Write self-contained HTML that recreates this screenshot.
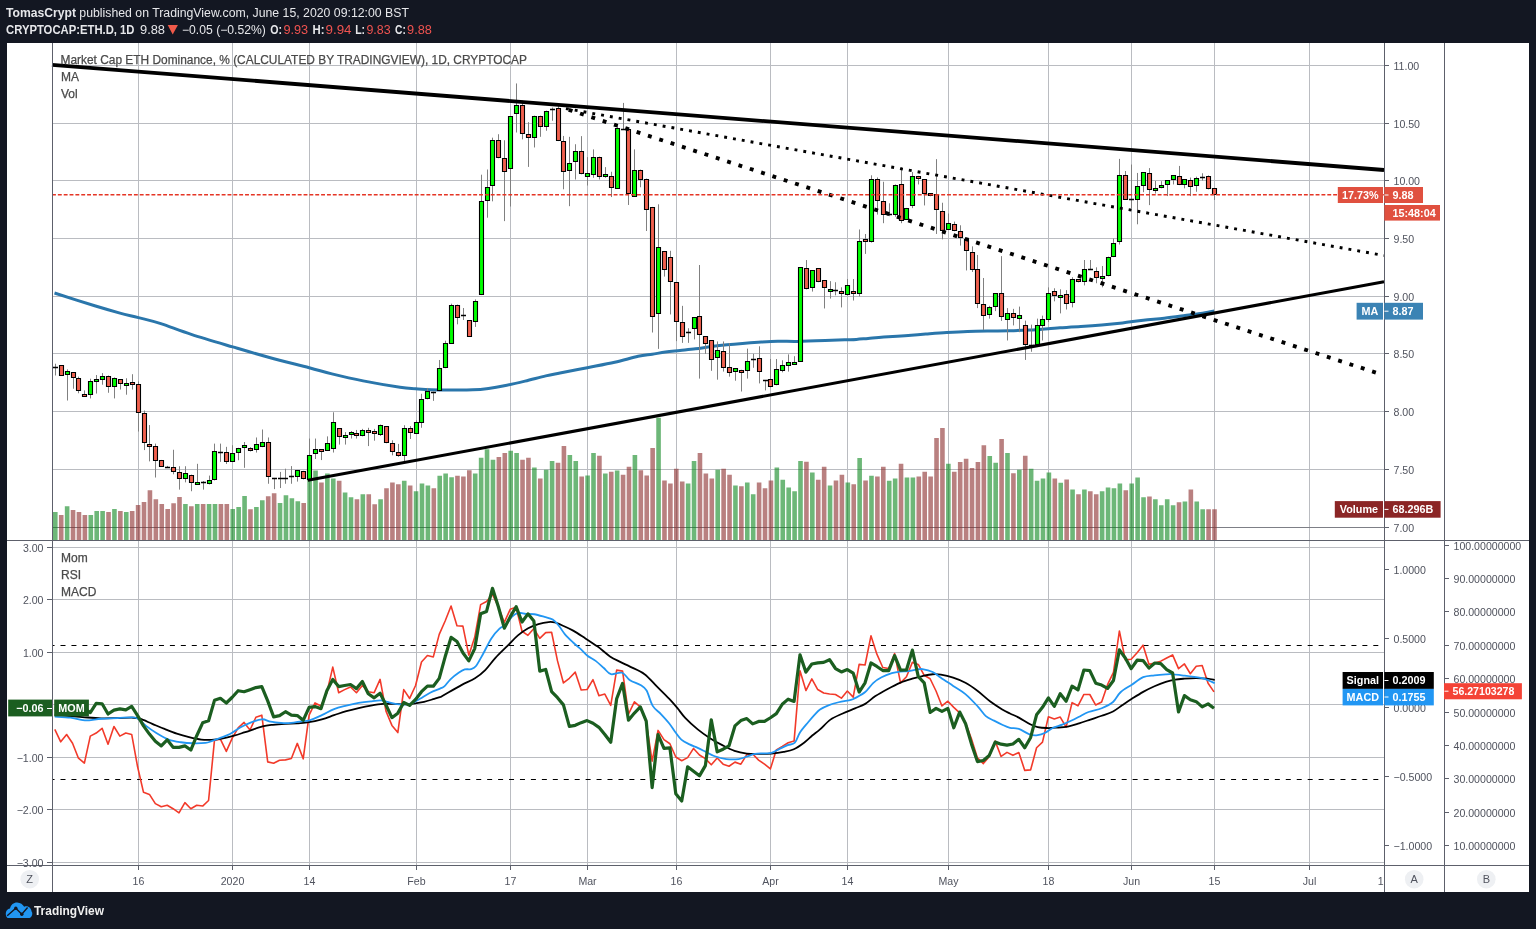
<!DOCTYPE html>
<html><head><meta charset="utf-8"><title>ETH Dominance</title>
<style>
html,body{margin:0;padding:0;}
body{width:1536px;height:929px;background:#131722;position:relative;overflow:hidden;}
#chart{position:absolute;left:7px;top:43px;width:1522px;height:849px;background:#fff;}
svg{position:absolute;left:0;top:0;}
</style></head><body>
<div id="chart"></div>
<svg width="1536" height="929" viewBox="0 0 1536 929">
<path d="M52 65.5H1384 M52 123.5H1384 M52 180.5H1384 M52 238.5H1384 M52 296.5H1384 M52 353.5H1384 M52 411.5H1384 M52 469.5H1384 M52 547.5H1384 M52 599.5H1384 M52 652.5H1384 M52 704.5H1384 M52 757.5H1384 M52 809.5H1384 M52 862.5H1384 M138.5 43V865 M232.5 43V865 M309.5 43V865 M416.5 43V865 M510.5 43V865 M587.5 43V865 M676.5 43V865 M770.5 43V865 M847.5 43V865 M948.5 43V865 M1048.5 43V865 M1131.5 43V865 M1214.5 43V865 M1309.5 43V865" stroke="#babcc1" stroke-width="1" fill="none"/>
<path d="M52 527.5H1384" stroke="#7d7f86" stroke-width="1"/>
<path d="M53 512.06h4.6V540h-4.6zM64.83 506.2h4.6V540h-4.6zM88.49 514.92h4.6V540h-4.6zM94.4 511.02h4.6V540h-4.6zM100.31 511.02h4.6V540h-4.6zM112.14 509.06h4.6V540h-4.6zM123.97 512.06h4.6V540h-4.6zM183.11 504.11h4.6V540h-4.6zM194.94 504.11h4.6V540h-4.6zM206.77 504.11h4.6V540h-4.6zM212.69 504.11h4.6V540h-4.6zM230.43 509.06h4.6V540h-4.6zM236.34 507.11h4.6V540h-4.6zM242.26 496.04h4.6V540h-4.6zM254.09 507.1h4.6V540h-4.6zM260 500.23h4.6V540h-4.6zM277.74 503.04h4.6V540h-4.6zM283.66 495.24h4.6V540h-4.6zM289.57 498.36h4.6V540h-4.6zM295.49 501.17h4.6V540h-4.6zM307.31 470.5h4.6V540h-4.6zM313.23 470.57h4.6V540h-4.6zM325.06 473.38h4.6V540h-4.6zM330.97 478.53h4.6V540h-4.6zM342.8 492.43h4.6V540h-4.6zM348.71 497.27h4.6V540h-4.6zM360.54 494.3h4.6V540h-4.6zM378.29 499.3h4.6V540h-4.6zM401.94 480.72h4.6V540h-4.6zM413.77 491.18h4.6V540h-4.6zM419.69 483.53h4.6V540h-4.6zM425.6 485.56h4.6V540h-4.6zM437.43 475.72h4.6V540h-4.6zM443.34 473.38h4.6V540h-4.6zM449.26 477.28h4.6V540h-4.6zM472.92 473.38h4.6V540h-4.6zM478.83 457.77h4.6V540h-4.6zM484.74 449.18h4.6V540h-4.6zM490.66 459.8h4.6V540h-4.6zM508.4 450.74h4.6V540h-4.6zM514.32 453.08h4.6V540h-4.6zM532.06 467.6h4.6V540h-4.6zM543.89 469.79h4.6V540h-4.6zM549.8 460.89h4.6V540h-4.6zM567.54 454.96h4.6V540h-4.6zM573.46 460.89h4.6V540h-4.6zM585.29 475.41h4.6V540h-4.6zM591.2 453.08h4.6V540h-4.6zM603.03 473.38h4.6V540h-4.6zM614.86 470.57h4.6V540h-4.6zM632.6 454.96h4.6V540h-4.6zM656.26 417.64h4.6V540h-4.6zM685.83 483.53h4.6V540h-4.6zM691.74 460.89h4.6V540h-4.6zM715.4 469.79h4.6V540h-4.6zM733.14 485.56h4.6V540h-4.6zM744.97 482.44h4.6V540h-4.6zM750.89 494.3h4.6V540h-4.6zM774.54 467.6h4.6V540h-4.6zM780.46 479.63h4.6V540h-4.6zM786.37 487.43h4.6V540h-4.6zM792.29 491.33h4.6V540h-4.6zM798.2 460.89h4.6V540h-4.6zM810.03 472.6h4.6V540h-4.6zM827.77 485.56h4.6V540h-4.6zM845.52 482.44h4.6V540h-4.6zM857.34 458.08h4.6V540h-4.6zM869.17 475.72h4.6V540h-4.6zM886.92 480.72h4.6V540h-4.6zM892.83 478.53h4.6V540h-4.6zM904.66 477.6h4.6V540h-4.6zM910.57 477.6h4.6V540h-4.6zM946.06 463.7h4.6V540h-4.6zM987.46 455.89h4.6V540h-4.6zM993.37 462.76h4.6V540h-4.6zM1005.2 453.05h4.6V540h-4.6zM1017.03 469.75h4.6V540h-4.6zM1028.86 468.65h4.6V540h-4.6zM1034.77 480.67h4.6V540h-4.6zM1040.69 478.48h4.6V540h-4.6zM1046.6 472.55h4.6V540h-4.6zM1058.43 482.7h4.6V540h-4.6zM1070.26 489.41h4.6V540h-4.6zM1082.09 489.41h4.6V540h-4.6zM1099.83 491.28h4.6V540h-4.6zM1105.75 487.38h4.6V540h-4.6zM1111.66 488.31h4.6V540h-4.6zM1117.57 483.48h4.6V540h-4.6zM1129.4 483.48h4.6V540h-4.6zM1135.32 477.55h4.6V540h-4.6zM1141.23 497.21h4.6V540h-4.6zM1153.06 499.24h4.6V540h-4.6zM1158.97 505.16h4.6V540h-4.6zM1164.89 499.24h4.6V540h-4.6zM1170.8 505.16h4.6V540h-4.6zM1182.63 501.42h4.6V540h-4.6zM1194.46 501.42h4.6V540h-4.6zM1200.37 509.22h4.6V540h-4.6z" fill="#0c871e" fill-opacity="0.6"/>
<path d="M58.91 514.92h4.6V540h-4.6zM70.74 510.1h4.6V540h-4.6zM76.66 512.06h4.6V540h-4.6zM82.57 514.92h4.6V540h-4.6zM106.23 512.06h4.6V540h-4.6zM118.06 511.02h4.6V540h-4.6zM129.89 511.02h4.6V540h-4.6zM135.8 504.9h4.6V540h-4.6zM141.71 502.03h4.6V540h-4.6zM147.63 490.18h4.6V540h-4.6zM153.54 499.17h4.6V540h-4.6zM159.46 504.11h4.6V540h-4.6zM165.37 509.06h4.6V540h-4.6zM171.29 503.2h4.6V540h-4.6zM177.2 497.08h4.6V540h-4.6zM189.03 506.2h4.6V540h-4.6zM200.86 504.11h4.6V540h-4.6zM218.6 504.11h4.6V540h-4.6zM224.51 504.11h4.6V540h-4.6zM248.17 509.29h4.6V540h-4.6zM265.91 496.33h4.6V540h-4.6zM271.83 493.36h4.6V540h-4.6zM301.4 503.04h4.6V540h-4.6zM319.14 482.44h4.6V540h-4.6zM336.89 480.72h4.6V540h-4.6zM354.63 499.14h4.6V540h-4.6zM366.46 494.3h4.6V540h-4.6zM372.37 504.14h4.6V540h-4.6zM384.2 488.37h4.6V540h-4.6zM390.12 482.44h4.6V540h-4.6zM396.03 484.31h4.6V540h-4.6zM407.86 485.4h4.6V540h-4.6zM431.52 488.37h4.6V540h-4.6zM455.17 475.72h4.6V540h-4.6zM461.09 476.5h4.6V540h-4.6zM467 470.26h4.6V540h-4.6zM496.57 456.99h4.6V540h-4.6zM502.49 453.08h4.6V540h-4.6zM520.23 459.8h4.6V540h-4.6zM526.14 457.77h4.6V540h-4.6zM537.97 478.53h4.6V540h-4.6zM555.72 462.76h4.6V540h-4.6zM561.63 446.06h4.6V540h-4.6zM579.37 476.5h4.6V540h-4.6zM597.12 455.74h4.6V540h-4.6zM608.94 471.82h4.6V540h-4.6zM620.77 474.63h4.6V540h-4.6zM626.69 466.82h4.6V540h-4.6zM638.52 470.26h4.6V540h-4.6zM644.43 475.57h4.6V540h-4.6zM650.34 447.93h4.6V540h-4.6zM662.17 480.41h4.6V540h-4.6zM668.09 483.53h4.6V540h-4.6zM674 468.7h4.6V540h-4.6zM679.92 481.5h4.6V540h-4.6zM697.66 453.08h4.6V540h-4.6zM703.57 473.38h4.6V540h-4.6zM709.49 478.53h4.6V540h-4.6zM721.32 468.7h4.6V540h-4.6zM727.23 474.63h4.6V540h-4.6zM739.06 486.34h4.6V540h-4.6zM756.8 482.44h4.6V540h-4.6zM762.72 488.37h4.6V540h-4.6zM768.63 480.41h4.6V540h-4.6zM804.12 461.67h4.6V540h-4.6zM815.94 479.63h4.6V540h-4.6zM821.86 466.82h4.6V540h-4.6zM833.69 480.41h4.6V540h-4.6zM839.6 474.63h4.6V540h-4.6zM851.43 484.31h4.6V540h-4.6zM863.26 480.41h4.6V540h-4.6zM875.09 476.5h4.6V540h-4.6zM881 466.82h4.6V540h-4.6zM898.74 463.7h4.6V540h-4.6zM916.49 476.5h4.6V540h-4.6zM922.4 471.82h4.6V540h-4.6zM928.32 476.5h4.6V540h-4.6zM934.23 437.94h4.6V540h-4.6zM940.14 428.1h4.6V540h-4.6zM951.97 471.82h4.6V540h-4.6zM957.89 461.98h4.6V540h-4.6zM963.8 458.86h4.6V540h-4.6zM969.72 467.92h4.6V540h-4.6zM975.63 461.98h4.6V540h-4.6zM981.55 445.28h4.6V540h-4.6zM999.29 439.01h4.6V540h-4.6zM1011.12 473.33h4.6V540h-4.6zM1022.95 455.7h4.6V540h-4.6zM1052.52 478.48h4.6V540h-4.6zM1064.35 479.58h4.6V540h-4.6zM1076.17 494.24h4.6V540h-4.6zM1088 491.28h4.6V540h-4.6zM1093.92 494.24h4.6V540h-4.6zM1123.49 490.19h4.6V540h-4.6zM1147.15 496.43h4.6V540h-4.6zM1176.72 502.2h4.6V540h-4.6zM1188.55 489.41h4.6V540h-4.6zM1206.29 509.22h4.6V540h-4.6zM1212.2 509.22h4.6V540h-4.6z" fill="#8a2b2b" fill-opacity="0.6"/>
<path d="M54.5 293C61.2 295.13 83.78 302.45 94.7 305.8C105.62 309.15 112.72 311.13 120 313.1C127.28 315.07 131.73 315.88 138.4 317.6C145.07 319.32 151.19 320.6 160 323.4C168.81 326.2 179.13 330.48 191.25 334.4C203.37 338.32 219.67 343.05 232.7 346.9C245.72 350.75 256.65 354.03 269.4 357.5C282.15 360.97 298.78 364.97 309.2 367.7C319.62 370.43 322.92 371.7 331.9 373.9C340.88 376.1 351.75 378.67 363.1 380.9C374.45 383.13 391.25 385.99 400 387.3C408.75 388.61 410.39 388.33 415.6 388.75C420.81 389.17 425.18 389.59 431.25 389.8C437.32 390.01 445.06 390 452 390C458.94 390 466.82 390.07 472.9 389.8C478.98 389.53 483.28 389.07 488.5 388.4C493.72 387.73 498.12 387.02 504.2 385.8C510.28 384.58 518.07 382.75 525 381.1C531.93 379.45 539.97 377.25 545.8 375.9C551.63 374.55 553.08 374.37 560 373C566.92 371.63 578.18 369.48 587.3 367.7C596.42 365.92 606.23 364.2 614.7 362.3C623.17 360.4 631.85 357.65 638.1 356.3C644.35 354.95 647.63 354.9 652.2 354.2C656.77 353.5 660.87 352.72 665.5 352.1C670.13 351.48 674.98 351.06 680 350.5C685.02 349.94 690.39 349.4 695.6 348.75C700.81 348.1 706.03 347.26 711.25 346.6C716.47 345.94 721.69 345.33 726.9 344.8C732.11 344.27 737.3 343.82 742.5 343.4C747.7 342.98 752.23 342.65 758.1 342.3C763.97 341.95 771.18 341.45 777.7 341.3C784.22 341.15 789.28 341.52 797.2 341.4C805.12 341.28 817.28 340.87 825.2 340.6C833.12 340.33 839.5 340 844.7 339.8C849.9 339.6 852.5 339.63 856.4 339.4C860.3 339.17 863.54 338.78 868.1 338.4C872.66 338.02 877.6 337.55 883.75 337.1C889.9 336.65 897.99 336.2 905 335.7C912.01 335.2 918.85 334.62 925.8 334.1C932.75 333.58 939.75 333.03 946.7 332.6C953.65 332.17 960.57 331.77 967.5 331.5C974.43 331.23 981.35 331.12 988.3 331C995.25 330.88 1002.25 330.97 1009.2 330.8C1016.15 330.63 1023.07 330.4 1030 330C1036.93 329.6 1045.8 328.77 1050.8 328.4C1055.8 328.03 1055 328.1 1060 327.8C1065 327.5 1073.85 327.07 1080.8 326.6C1087.75 326.13 1094.75 325.62 1101.7 325C1108.65 324.38 1115.57 323.68 1122.5 322.9C1129.43 322.12 1136.35 321.08 1143.3 320.3C1150.25 319.52 1157.25 318.98 1164.2 318.2C1171.15 317.42 1178.93 316.38 1185 315.6C1191.07 314.82 1195.73 314.28 1200.6 313.5C1205.47 312.72 1211.93 311.33 1214.2 310.9" stroke="#2a76ab" stroke-width="3" fill="none" stroke-linejoin="round"/>
<path d="M55.5 363.72V375.5M61.5 365.5V375.83M67.5 369.37V400.52M73.5 372.28V388.74M78.5 376.63V393.26M84.5 390.36V396.33M90.5 378.73V398.43M96.5 375.02V393.58M102.5 373.08V384.71M108.5 375.5V392.78M114.5 377.44V398.43M120.5 379.22V389.55M126.5 378.25V394.71M132.5 374.21V389.55M138.5 381.48V431.52M144.5 410.53V450.08M149.5 425.06V461.38M155.5 443.62V477.52M161.5 459.93V466.87M167.5 465.9V467.19M173.5 449.76V474.29M179.5 466.22V489.63M185.5 466.22V482.36M191.5 474.62V491.24M197.5 463.8V483.98M203.5 481.07V489.63M209.5 475.59V484.46M214.5 443.62V480.43M220.5 443.62V461.86M226.5 446.85V463.96M232.5 445.24V461.7M238.5 447.82V460.25M244.5 442.01V467.84M250.5 447.16V451.46M256.5 437.47V452.54M262.5 429.5V447.16M268.5 437.47V483.76M274.5 477.94V489.14M280.5 471.92V488.06M285.5 468.69V483.76M291.5 466.1V483.76M297.5 469.98V481.6M303.5 470.84V479.45M309.5 438.55V479.88M315.5 438.55V459M321.5 449.31V460.08M327.5 436.39V451.03M333.5 412.28V452.54M339.5 428.21V444.57M345.5 432.09V444.57M351.5 431.01V438.55M356.5 429.94V438.55M362.5 428.86V436.39M368.5 427.78V446.08M374.5 428.86V440.7M380.5 424.55V435.96M386.5 426.06V443.28M392.5 440.27V455.34M398.5 443.93V456.85M404.5 425.2V461.15M410.5 426.06V438.98M416.5 420.25V433.81M421.5 393.77V427.78M427.5 387.95V399.36M433.5 391.61V400.87M439.5 359.97V391.18M445.5 340.69V368.23M451.5 303.68V343.79M457.5 304.54V324.34M463.5 307.99V320.03M469.5 320.38V336.73M475.5 299.38V326.92M481.5 174.7V295.1M487.5 169.5V217.69M492.5 137.66V201.34M498.5 134.22V158.31M504.5 140.24V221.14M510.5 116.49V206.51M516.5 83.44V132.5M522.5 100.65V139.38M528.5 122.17V166.92M534.5 115.63V147.47M540.5 115.63V136.8M546.5 110.64V130.77M552.5 107.54V120.79M558.5 105.82V141.1M563.5 135.94V189.29M569.5 136.82V206.18M575.5 144.22V179.5M581.5 136.13V174.34M587.5 157.13V185.52M593.5 149.38V177.78M599.5 156.61V179.5M605.5 167.11V177.78M611.5 171.76V197.06M617.5 124.42V188.97M623.5 102.91V129.24M628.5 128.73V204.97M634.5 149.38V196.71M640.5 169.52V187.25M646.5 178.6V231M652.5 206.88V332.53M658.5 204.3V348.88M664.5 251.29V276.59M670.5 250.77V314.46M676.5 282.27V341.14M682.5 305.85V342.86M688.5 328.23V342.86M694.5 317.04V339.41M699.5 265V378.6M705.5 336.06V353.82M711.5 340.04V370.83M717.5 341.44V379.66M723.5 341.44V371.58M729.5 343.06V376.64M735.5 368.46V380.73M741.5 369.75V391.5M747.5 348.65V378.58M753.5 353.82V367.81M759.5 346.29V383.42M765.5 380.19V390.42M770.5 358.99V387.41M776.5 358.99V385.25M782.5 360.28V372.34M788.5 354.36V371.58M794.5 356.19V363.29M800.5 267V361.6M806.5 260.04V289.43M812.5 270.38V291.58M818.5 268.44V282.22M824.5 280.5V308.48M830.5 281.14V298.58M835.5 282.22V295.35M841.5 287.28V307.41M847.5 278.99V295.35M853.5 278.99V300.52M859.5 229.47V296.43M865.5 233.99V253.91M871.5 175.3V242.6M877.5 177.45V214.59M883.5 181.75V223.2M889.5 203.28V216.2M895.5 184.45V216.74M901.5 167.22V223.2M906.5 207.91V219.75M912.5 172.07V208.13M918.5 175.83V184.45M924.5 179.28V205.44M930.5 193.06V196.29M936.5 159.15V233.96M942.5 202.74V239.34M948.5 213.51V229.66M954.5 221.58V231.27M960.5 225.27V245.6M966.5 238.07V270.45M972.5 246.36V271.96M977.5 254.94V308.1M983.5 277.98V329.94M989.5 305.84V318.64M995.5 293.34V311.11M1001.5 256.14V320.9M1007.5 308.1V340.48M1013.5 308.86V325.42M1019.5 306.6V332.2M1025.5 320.6V359.91M1031.5 324.67V351.78M1037.5 318.64V345M1042.5 315.63V340.48M1048.5 287.39V322.02M1054.5 288.25V301.34M1060.5 289.29V313.4M1066.5 290.15V309.53M1072.5 277.23V307.37M1078.5 278.95V282.39M1084.5 260V285.41M1090.5 260V269.3M1096.5 267.32V283.26M1102.5 265.99V287.32M1108.5 256.62V276.33M1113.5 238.53V257.11M1119.5 158.89V244.51M1125.5 171V199.76M1131.5 164.54V208.16M1137.5 172.94V224.31M1143.5 172.39V192.2M1149.5 168.09V205.12M1155.5 181.01V193.5M1161.5 181.18V188.33M1167.5 180.32V196.08M1173.5 175.41V184.45M1179.5 165.93V185.14M1184.5 179.46V188.33M1190.5 177.56V196.08M1196.5 176.7V191.77M1202.5 173.26V180.58M1208.5 175.41V189.45M1214.5 187.9V199.96" stroke="#808080" stroke-width="1" fill="none"/>
<path d="M65.5 371.5h4V374.5h-4zM88.5 381.5h4V394.5h-4zM94.5 379.5h4V381.5h-4zM100.5 376.5h4V379.5h-4zM112.5 378.5h4V386.5h-4zM124.5 383.5h4V385.5h-4zM183.5 473.5h4V478.5h-4zM195.5 482.5h4V484.5h-4zM207.5 480.5h4V483.5h-4zM212.5 451.5h4V479.5h-4zM230.5 453.5h4V461.5h-4zM236.5 448.5h4V452.5h-4zM242.5 445.5h4V447.5h-4zM254.5 444.5h4V449.5h-4zM260.5 442.5h4V446.5h-4zM295.5 470.5h4V476.5h-4zM307.5 455.5h4V479.5h-4zM313.5 449.5h4V453.5h-4zM325.5 443.5h4V450.5h-4zM331.5 422.5h4V448.5h-4zM343.5 435.5h4V437.5h-4zM349.5 432.5h4V434.5h-4zM360.5 430.5h4V435.5h-4zM378.5 425.5h4V434.5h-4zM402.5 428.5h4V455.5h-4zM414.5 422.5h4V433.5h-4zM419.5 399.5h4V422.5h-4zM425.5 391.5h4V398.5h-4zM437.5 368.5h4V390.5h-4zM443.5 343.5h4V367.5h-4zM449.5 305.5h4V343.5h-4zM473.5 301.5h4V321.5h-4zM479.5 201.5h4V294.5h-4zM485.5 187.5h4V200.5h-4zM490.5 140.5h4V185.5h-4zM508.5 116.5h4V168.5h-4zM514.5 105.5h4V113.5h-4zM532.5 116.5h4V137.5h-4zM544.5 111.5h4V126.5h-4zM567.5 163.5h4V170.5h-4zM573.5 151.5h4V161.5h-4zM585.5 173.5h4V176.5h-4zM591.5 157.5h4V174.5h-4zM603.5 174.5h4V176.5h-4zM615.5 128.5h4V188.5h-4zM632.5 170.5h4V196.5h-4zM656.5 247.5h4V313.5h-4zM692.5 317.5h4V328.5h-4zM715.5 350.5h4V357.5h-4zM733.5 368.5h4V371.5h-4zM745.5 361.5h4V370.5h-4zM774.5 369.5h4V384.5h-4zM780.5 365.5h4V370.5h-4zM786.5 362.5h4V365.5h-4zM792.5 362.5h4V364.5h-4zM798.5 267.5h4V361.5h-4zM810.5 270.5h4V287.5h-4zM828.5 289.5h4V291.5h-4zM845.5 285.5h4V294.5h-4zM857.5 241.5h4V293.5h-4zM869.5 179.5h4V241.5h-4zM893.5 185.5h4V214.5h-4zM904.5 208.5h4V219.5h-4zM910.5 176.5h4V205.5h-4zM946.5 223.5h4V229.5h-4zM987.5 307.5h4V314.5h-4zM993.5 293.5h4V306.5h-4zM1005.5 313.5h4V319.5h-4zM1017.5 315.5h4V318.5h-4zM1035.5 325.5h4V344.5h-4zM1040.5 319.5h4V325.5h-4zM1046.5 293.5h4V319.5h-4zM1058.5 295.5h4V297.5h-4zM1070.5 279.5h4V302.5h-4zM1082.5 269.5h4V281.5h-4zM1100.5 276.5h4V278.5h-4zM1106.5 257.5h4V275.5h-4zM1111.5 243.5h4V256.5h-4zM1117.5 175.5h4V241.5h-4zM1135.5 186.5h4V199.5h-4zM1141.5 172.5h4V185.5h-4zM1153.5 188.5h4V190.5h-4zM1159.5 185.5h4V187.5h-4zM1165.5 180.5h4V184.5h-4zM1171.5 175.5h4V179.5h-4zM1182.5 179.5h4V184.5h-4zM1194.5 178.5h4V185.5h-4z" fill="#00ff00" stroke="#000" stroke-width="1.1"/>
<path d="M59.5 365.5h4V375.5h-4zM71.5 372.5h4V377.5h-4zM76.5 378.5h4V390.5h-4zM82.5 394.5h4V396.5h-4zM106.5 376.5h4V386.5h-4zM118.5 379.5h4V383.5h-4zM130.5 382.5h4V384.5h-4zM136.5 384.5h4V412.5h-4zM142.5 413.5h4V442.5h-4zM147.5 444.5h4V446.5h-4zM153.5 446.5h4V460.5h-4zM159.5 460.5h4V466.5h-4zM171.5 467.5h4V471.5h-4zM177.5 472.5h4V478.5h-4zM189.5 475.5h4V482.5h-4zM224.5 452.5h4V461.5h-4zM248.5 448.5h4V450.5h-4zM266.5 442.5h4V476.5h-4zM301.5 471.5h4V478.5h-4zM319.5 449.5h4V451.5h-4zM337.5 428.5h4V436.5h-4zM354.5 433.5h4V435.5h-4zM366.5 430.5h4V432.5h-4zM372.5 431.5h4V433.5h-4zM384.5 426.5h4V442.5h-4zM390.5 443.5h4V451.5h-4zM396.5 452.5h4V455.5h-4zM408.5 428.5h4V432.5h-4zM455.5 305.5h4V317.5h-4zM467.5 320.5h4V336.5h-4zM496.5 140.5h4V157.5h-4zM502.5 158.5h4V171.5h-4zM520.5 105.5h4V133.5h-4zM526.5 134.5h4V137.5h-4zM538.5 116.5h4V126.5h-4zM556.5 108.5h4V140.5h-4zM561.5 141.5h4V171.5h-4zM579.5 151.5h4V173.5h-4zM597.5 157.5h4V176.5h-4zM609.5 176.5h4V187.5h-4zM626.5 129.5h4V193.5h-4zM638.5 170.5h4V179.5h-4zM644.5 179.5h4V209.5h-4zM650.5 207.5h4V316.5h-4zM662.5 251.5h4V269.5h-4zM668.5 257.5h4V281.5h-4zM674.5 282.5h4V321.5h-4zM680.5 322.5h4V336.5h-4zM697.5 316.5h4V334.5h-4zM703.5 336.5h4V343.5h-4zM709.5 340.5h4V359.5h-4zM721.5 351.5h4V367.5h-4zM727.5 367.5h4V372.5h-4zM739.5 370.5h4V372.5h-4zM757.5 358.5h4V371.5h-4zM768.5 379.5h4V386.5h-4zM804.5 268.5h4V288.5h-4zM816.5 268.5h4V281.5h-4zM822.5 280.5h4V287.5h-4zM839.5 291.5h4V293.5h-4zM851.5 291.5h4V293.5h-4zM863.5 239.5h4V241.5h-4zM875.5 179.5h4V200.5h-4zM881.5 201.5h4V214.5h-4zM899.5 184.5h4V220.5h-4zM916.5 176.5h4V178.5h-4zM922.5 179.5h4V193.5h-4zM928.5 193.5h4V195.5h-4zM934.5 194.5h4V209.5h-4zM940.5 211.5h4V230.5h-4zM952.5 224.5h4V230.5h-4zM958.5 231.5h4V237.5h-4zM964.5 239.5h4V250.5h-4zM970.5 252.5h4V269.5h-4zM975.5 269.5h4V303.5h-4zM981.5 304.5h4V315.5h-4zM999.5 293.5h4V316.5h-4zM1011.5 313.5h4V317.5h-4zM1023.5 325.5h4V344.5h-4zM1052.5 291.5h4V295.5h-4zM1064.5 294.5h4V303.5h-4zM1076.5 279.5h4V281.5h-4zM1094.5 271.5h4V277.5h-4zM1123.5 175.5h4V199.5h-4zM1147.5 173.5h4V189.5h-4zM1177.5 176.5h4V184.5h-4zM1188.5 180.5h4V186.5h-4zM1206.5 176.5h4V188.5h-4zM1212.5 188.5h4V194.5h-4z" fill="#f0604e" stroke="#000" stroke-width="1.1"/>
<path d="M53 367.5h5M165 467.5h5M201 482.5h5M218 452.5h5M272 478.5h5M278 478.5h5M283 478.5h5M289 476.5h5M431 392.5h5M461 315.5h5M550 109.5h5M621 129.5h5M686 332.5h5M751 359.5h5M763 380.5h5M833 290.5h5M887 214.5h5M1029 345.5h5M1088 269.5h5M1129 199.5h5M1200 177.5h5" stroke="#000" stroke-width="1.5" fill="none"/>
<path d="M52 64.8L1384 170" stroke="#000" stroke-width="3.8" fill="none"/>
<path d="M307.8 480.3L1384 281.7" stroke="#000" stroke-width="3.1" fill="none"/>
<path d="M561 107.7L1384 255.5" stroke="#000" stroke-width="2.9" stroke-dasharray="2.9 6.033" stroke-dashoffset="-5" fill="none"/>
<path d="M562 107.6L1381 374.3" stroke="#000" stroke-width="3.9" stroke-dasharray="3.9 8" stroke-dashoffset="-7.1" fill="none"/>
<path d="M52 194.8H1384" stroke="#e53525" stroke-width="1.5" stroke-dasharray="3.9 1.95" fill="none"/>
<path d="M52 645.5H1384M52 779.5H1384" stroke="#000" stroke-width="1" stroke-dasharray="5 5.94" stroke-dashoffset="2.44" fill="none"/>
<path d="M54.8 729.37L60.71 741.84L66.63 734.48L72.54 743.27L78.46 758.2L84.37 763.11L90.29 736.11L96.2 733.05L102.11 728.34L108.03 744.29L113.94 726.5L119.86 736.11L125.77 733.05L131.69 734.48L137.6 766.79L143.51 792.35L149.43 794.4L155.34 803.6L161.26 806.67L167.17 805.24L173.09 808.71L179 812.8L184.91 802.58L190.83 808.71L196.74 805.24L202.66 806.05L208.57 800.53L214.49 740.2L220.4 739.18L226.31 751.45L232.23 738.16L238.14 727.93L244.06 722.41L249.97 729.98L255.89 717.24L261.8 715.19L267.71 761.9L273.63 763.3L279.54 760.2L285.46 759.9L291.37 758.5L297.29 743.4L303.2 758.8L309.11 715.19L315.03 702.92L320.94 705.99L326.86 692.7L332.77 667.14L338.69 692.7L344.6 689.63L350.51 686.97L356.43 692.7L362.34 685.54L368.26 691.68L374.17 692.7L380.09 679.41L386 711.1L391.92 725.42L397.83 732.58L403.74 689.63L409.66 698.43L415.57 685.54L421.49 662.02L427.4 655.48L433.32 656.91L439.23 634.42L445.14 621.01L451.06 606.08L456.97 625.72L462.89 626.12L468.8 655.16L474.72 637.37L480.63 604.65L486.54 601.58L492.46 594.43L498.37 606.7L504.29 622.44L510.2 609.36L516.12 607.31L522.03 631.24L527.94 635.33L533.86 628.58L539.77 638.39L545.69 632.67L551.6 632.26L557.52 660.89L563.43 682.98L569.34 678.27L575.26 672.14L581.17 689.93L587.09 689.52L593 679.7L598.92 695.65L604.83 694.02L610.74 705.47L616.66 670.09L622.57 671.11L628.49 714.06L634.4 701.8L640.32 706.91L646.23 722.25L652.14 761.1L658.06 730.43L663.97 739.63L669.89 743.72L675.8 757.01L681.72 760.7L687.63 757.63L693.54 748.43L699.46 754.97L705.37 758.65L711.29 764.79L717.2 758.04L723.12 764.17L729.03 766.22L734.94 762.13L740.86 764.17L746.77 754.56L752.69 753.95L758.6 760.08L764.52 764.17L770.43 768.88L776.34 749.86L782.26 746.38L788.17 742.7L794.09 741.06L800 670.72L805.92 690.55L811.83 678.9L817.74 689.53L823.66 693.05L829.57 694.07L835.49 694.48L841.4 698.16L847.32 691L853.23 697.14L859.14 664.42L865.06 665.03L870.97 635.79L876.89 654.19L882.8 667.48L888.72 668.51L894.63 653.58L900.54 682.82L906.46 676.69L912.37 662.37L918.29 664.42L924.2 675.26L930.12 678.73L936.03 691L941.94 705.93L947.86 701.23L953.77 707.36L959.69 712.88L965.6 723.11L971.52 739.06L977.43 757.87L983.35 763.6L989.26 756.44L995.17 741.1L1001.09 756.44L1007 752.35L1012.92 755.33L1018.83 752.5L1024.75 770.4L1030.66 769.83L1036.57 747.79L1042.49 742.14L1048.4 716.71L1054.32 718.97L1060.23 717.09L1066.15 727.07L1072.06 702.59L1077.97 705.79L1083.89 694.49L1089.8 694.49L1095.72 705.04L1101.63 702.02L1107.55 684.69L1113.46 672.45L1119.37 631.01L1125.29 659.83L1131.2 659.26L1137.12 652.67L1143.03 645.14L1148.95 664.35L1154.86 663.03L1160.77 661.15L1166.69 657.95L1172.6 654.93L1178.52 668.68L1184.43 663.97L1190.35 673.77L1196.26 666.23L1202.17 665.48L1208.09 683.19L1214 691.85" stroke="#f23a2a" stroke-width="1.6" fill="none" stroke-linejoin="round"/>
<path d="M54.7 714.64C57.33 714.88 65.44 715.63 70.45 716.07C75.46 716.52 79.65 716.93 84.76 717.3C89.88 717.68 95.67 718.19 101.12 718.32C106.58 718.46 112.37 718.22 117.48 718.12C122.6 718.02 128.05 717.61 131.8 717.71C135.55 717.81 136.57 717.71 139.98 718.73C143.39 719.75 148.16 722.14 152.25 723.84C156.34 725.55 160.43 727.32 164.52 728.96C168.61 730.59 172.7 732.3 176.79 733.66C180.88 735.02 184.97 736.15 189.06 737.14C193.15 738.13 197.58 739.15 201.33 739.59C205.08 740.03 208.15 739.97 211.55 739.8C214.96 739.63 218.03 739.25 221.78 738.57C225.53 737.89 230.3 736.73 234.05 735.71C237.8 734.68 241.62 733.29 244.27 732.43C246.93 731.58 246.96 731.59 250 730.59C253.04 729.59 258.71 727.41 262.49 726.44C266.28 725.48 268.97 725.25 272.72 724.81C276.47 724.36 280.9 724.02 284.99 723.78C289.08 723.54 293.51 723.61 297.26 723.37C301.01 723.14 303.39 723.03 307.48 722.35C311.57 721.67 317.37 720.48 321.8 719.28C326.23 718.09 329.98 716.56 334.07 715.19C338.16 713.83 342.25 712.3 346.34 711.1C350.43 709.91 354.52 708.96 358.61 708.04C362.7 707.12 366.79 706.26 370.88 705.58C374.97 704.9 379.06 704.22 383.15 703.95C387.24 703.67 392.01 703.88 395.42 703.95C398.83 704.01 400.53 704.42 403.6 704.36C406.67 704.29 410.42 703.95 413.82 703.54C417.23 703.13 420.64 702.69 424.05 701.9C427.46 701.12 431.62 699.62 434.27 698.83C436.93 698.05 438.67 697.66 440 697.2C441.33 696.74 440.19 697.24 442.27 696.06C444.35 694.89 449.09 692.08 452.49 690.13C455.9 688.19 458.97 686.38 462.72 684.41C466.47 682.43 471.24 680.66 474.99 678.27C478.74 675.89 481.81 673.5 485.21 670.09C488.62 666.68 491.69 661.91 495.44 657.82C499.19 653.73 503.96 649.3 507.71 645.55C511.46 641.8 514.53 638.22 517.93 635.33C521.34 632.43 524.75 630.04 528.16 628.17C531.57 626.3 534.98 625.1 538.38 624.08C541.79 623.06 545.88 622.31 548.61 622.03C551.34 621.76 552.36 621.83 554.74 622.44C557.13 623.06 559.86 624.35 562.92 625.72C565.99 627.08 569.4 628.51 573.15 630.62C576.9 632.74 581.33 635.74 585.42 638.39C589.51 641.05 593.6 643.58 597.69 646.57C601.78 649.57 606.21 653.83 609.96 656.39C613.71 658.95 616.84 660.21 620.18 661.91C623.52 663.62 625.94 664.57 630 666.62C634.06 668.66 640.07 670.88 644.54 674.19C649.01 677.5 652.72 682.37 656.81 686.46C660.9 690.55 665.67 695.15 669.08 698.73C672.49 702.31 674.53 704.7 677.26 707.93C679.99 711.17 682.03 714.58 685.44 718.16C688.85 721.74 693.62 726.07 697.71 729.41C701.8 732.75 705.89 735.58 709.98 738.2C714.07 740.82 718.16 743.04 722.25 745.15C726.34 747.27 730.43 749.48 734.52 750.88C738.61 752.28 742.7 753.03 746.79 753.54C750.88 754.05 754.97 753.95 759.06 753.95C763.15 753.95 767.24 753.88 771.33 753.54C775.42 753.2 779.85 752.62 783.6 751.9C787.35 751.19 790.42 750.78 793.82 749.24C797.23 747.71 800.98 744.98 804.05 742.7C807.12 740.42 809.57 737.76 812.23 735.54C814.89 733.33 816.96 732.06 820 729.41C823.04 726.76 826.66 722.28 830.45 719.63C834.24 716.98 838.63 715.37 842.72 713.5C846.81 711.62 851.24 709.99 854.99 708.38C858.74 706.78 861.81 705.93 865.21 703.89C868.62 701.84 871.69 698.6 875.44 696.11C879.19 693.63 883.62 691.17 887.71 688.96C891.8 686.74 895.89 684.53 899.98 682.82C904.07 681.12 908.5 679.86 912.25 678.73C916 677.61 919.07 676.82 922.47 676.07C925.88 675.32 929.63 674.47 932.7 674.23C935.77 673.99 937.47 674.06 940.88 674.64C944.29 675.22 949.06 676.35 953.15 677.71C957.24 679.07 961.33 680.61 965.42 682.82C969.51 685.04 973.6 687.93 977.69 691C981.78 694.07 985.87 698.16 989.96 701.23C994.05 704.29 998.89 707.36 1002.23 709.41C1005.57 711.45 1007.23 712.12 1010 713.5C1012.77 714.87 1015.48 715.86 1018.84 717.66C1022.19 719.45 1027 722.68 1030.14 724.25C1033.28 725.82 1034.85 726.45 1037.67 727.07C1040.5 727.7 1043.95 727.92 1047.09 728.02C1050.23 728.11 1053.05 727.89 1056.51 727.64C1059.96 727.39 1064.04 727.23 1067.81 726.51C1071.58 725.79 1075.34 724.47 1079.11 723.31C1082.88 722.15 1086.65 720.8 1090.41 719.54C1094.18 718.28 1097.95 717.12 1101.71 715.77C1105.48 714.42 1109.56 713.23 1113.02 711.44C1116.47 709.65 1119.29 707.14 1122.43 705.04C1125.57 702.93 1128.4 701.02 1131.85 698.82C1135.3 696.62 1139.39 693.95 1143.15 691.85C1146.92 689.75 1150.69 687.86 1154.45 686.2C1158.22 684.54 1162.3 682.97 1165.76 681.87C1169.21 680.77 1172.03 680.14 1175.17 679.61C1178.31 679.07 1181.14 678.92 1184.59 678.67C1188.05 678.41 1192.13 678.1 1195.89 678.1C1199.66 678.1 1204.06 678.35 1207.2 678.67C1210.33 678.98 1213.47 679.76 1214.73 679.98" stroke="#000" stroke-width="1.8" fill="none"/>
<path d="M54.7 716.69C57.33 716.86 65.44 717.1 70.45 717.71C75.46 718.32 79.65 720.2 84.76 720.37C89.88 720.54 95.67 719.11 101.12 718.73C106.58 718.36 112.37 718.36 117.48 718.12C122.6 717.88 128.39 717.2 131.8 717.3C135.21 717.4 135.55 717.3 137.93 718.73C140.32 720.16 143.05 723.5 146.11 725.89C149.18 728.28 152.59 730.76 156.34 733.05C160.09 735.33 164.52 738.06 168.61 739.59C172.7 741.12 176.79 741.64 180.88 742.25C184.97 742.86 189.06 743.17 193.15 743.27C197.24 743.37 202.35 743.2 205.42 742.86C208.49 742.52 209.17 742.01 211.55 741.23C213.94 740.44 216.67 739.35 219.73 738.16C222.8 736.97 226.55 735.84 229.96 734.07C233.37 732.3 236.84 729.4 240.18 727.53C243.52 725.65 246.38 724.2 250 722.82C253.62 721.45 258.44 719.46 261.88 719.28C265.33 719.1 267.51 721.12 270.67 721.74C273.84 722.35 277.49 722.76 280.9 722.97C284.31 723.17 287.72 723.24 291.12 722.97C294.53 722.69 298.28 721.77 301.35 721.33C304.42 720.89 306.12 721.33 309.53 720.31C312.94 719.28 317.71 717.07 321.8 715.19C325.89 713.32 329.98 710.66 334.07 709.06C338.16 707.46 342.25 706.61 346.34 705.58C350.43 704.56 354.52 703.64 358.61 702.92C362.7 702.21 367.13 701.7 370.88 701.29C374.63 700.88 378.38 700.37 381.1 700.47C383.83 700.57 384.85 701.32 387.24 701.9C389.63 702.48 392.69 703.5 395.42 703.95C398.15 704.39 400.87 704.66 403.6 704.56C406.33 704.46 409.05 704.29 411.78 703.33C414.51 702.38 416.89 700.61 419.96 698.83C423.03 697.06 426.84 694.4 430.18 692.7C433.52 691 437.64 689.65 440 688.61C442.36 687.57 442.57 688 444.31 686.45C446.06 684.9 448.06 681.58 450.45 679.29C452.84 677.01 456.24 674.39 458.63 672.75C461.02 671.11 462.72 670.09 464.76 669.48C466.81 668.87 469.03 669.65 470.9 669.07C472.77 668.49 473.97 668.56 476.01 666C478.06 663.45 480.61 658.33 483.17 653.73C485.73 649.13 488.62 642.59 491.35 638.39C494.08 634.2 497.14 630.79 499.53 628.58C501.92 626.36 503.62 627.04 505.66 625.1C507.71 623.16 509.75 618.97 511.8 616.92C513.84 614.88 515.55 613.34 517.93 612.83C520.32 612.32 523.39 613.62 526.11 613.85C528.84 614.09 531.23 613.75 534.29 614.26C537.36 614.78 541.45 616.04 544.52 616.92C547.59 617.81 550.31 618.12 552.7 619.58C555.09 621.05 556.79 623.26 558.83 625.72C560.88 628.17 562.58 631.51 564.97 634.3C567.36 637.1 570.42 639.93 573.15 642.48C575.88 645.04 578.94 647.43 581.33 649.64C583.72 651.86 585.08 653.9 587.46 655.78C589.85 657.65 592.92 658.84 595.64 660.89C598.37 662.93 601.27 665.83 603.82 668.05C606.38 670.26 607.91 673.4 610.98 674.18C614.05 674.97 619.06 671.73 622.23 672.75C625.4 673.77 626.96 678.27 630 680.32C633.04 682.36 637.69 683.32 640.45 685.03C643.21 686.74 644.54 687.08 646.58 690.55C648.63 694.03 650.33 701.97 652.72 705.89C655.11 709.81 658.17 711.17 660.9 714.07C663.63 716.97 666.69 720.27 669.08 723.27C671.47 726.27 673.17 729.34 675.21 732.07C677.26 734.79 678.96 737.59 681.35 739.63C683.74 741.68 686.8 742.97 689.53 744.34C692.26 745.7 694.98 746.55 697.71 747.81C700.44 749.07 703.16 750.54 705.89 751.9C708.62 753.27 710.66 754.8 714.07 755.99C717.48 757.18 722.25 758.55 726.34 759.06C730.43 759.57 735.2 759.47 738.61 759.06C742.02 758.65 744.06 757.46 746.79 756.61C749.52 755.75 752.24 754.49 754.97 753.95C757.7 753.4 760.42 753.5 763.15 753.33C765.88 753.16 768.6 753.67 771.33 752.92C774.06 752.17 776.78 750.13 779.51 748.83C782.24 747.54 785.13 746.18 787.69 745.15C790.25 744.13 792.8 744.81 794.85 742.7C796.89 740.59 797.74 735.88 799.96 732.47C802.17 729.07 805.75 725.15 808.14 722.25C810.52 719.35 812.3 717.21 814.27 715.09C816.25 712.98 817.64 711.2 820 709.57C822.36 707.94 825.3 706.54 828.4 705.32C831.51 704.1 834.88 703.17 838.63 702.25C842.38 701.33 848.17 700.48 850.9 699.8C853.63 699.11 852.6 699.45 854.99 698.16C857.38 696.86 862.15 694.58 865.21 692.02C868.28 689.47 870.67 685.28 873.39 682.82C876.12 680.37 878.51 678.9 881.57 677.3C884.64 675.7 888.73 674.16 891.8 673.21C894.87 672.26 897.25 671.92 899.98 671.57C902.71 671.23 905.43 671.51 908.16 671.17C910.89 670.82 913.95 669.87 916.34 669.53C918.73 669.19 919.75 668.71 922.47 669.12C925.2 669.53 929.63 670.55 932.7 671.98C935.77 673.42 937.47 675.39 940.88 677.71C944.29 680.03 949.06 683.16 953.15 685.89C957.24 688.62 961.33 690.66 965.42 694.07C969.51 697.48 974.28 702.66 977.69 706.34C981.1 710.02 983.14 713.77 985.87 716.16C988.6 718.54 991.32 719.22 994.05 720.65C996.78 722.09 999.57 723.55 1002.23 724.74C1004.89 725.94 1007.23 727.11 1010 727.81C1012.77 728.51 1015.48 727.82 1018.84 728.96C1022.19 730.09 1027 733.57 1030.14 734.61C1033.28 735.64 1035.16 735.49 1037.67 735.17C1040.18 734.86 1042.69 733.92 1045.21 732.72C1047.72 731.53 1049.92 729.37 1052.74 728.02C1055.57 726.67 1059.02 725.88 1062.16 724.63C1065.3 723.37 1068.75 721.8 1071.58 720.48C1074.4 719.16 1076.29 718.13 1079.11 716.71C1081.94 715.3 1084.76 713.42 1088.53 712.01C1092.3 710.59 1097.63 709.9 1101.71 708.24C1105.8 706.57 1109.88 704.69 1113.02 702.02C1116.15 699.35 1117.41 695.12 1120.55 692.23C1123.69 689.34 1128.08 687.2 1131.85 684.69C1135.62 682.18 1139.39 678.73 1143.15 677.16C1146.92 675.59 1150.69 675.75 1154.45 675.28C1158.22 674.8 1162.62 674.49 1165.76 674.33C1168.9 674.18 1170.15 674.11 1173.29 674.33C1176.43 674.55 1180.83 675.18 1184.59 675.65C1188.36 676.12 1192.44 676.59 1195.89 677.16C1199.35 677.72 1202.17 678.04 1205.31 679.04C1208.45 680.05 1213.16 682.5 1214.73 683.19" stroke="#2196f3" stroke-width="1.8" fill="none"/>
<path d="M54.8 708.5L60.71 708.5L66.63 708.5L72.54 708.5L78.46 708.5L84.37 708.5L90.29 712.6L96.2 703.39L102.11 703.8L108.03 714.03L113.94 710.14L119.86 708.92L125.77 709.94L131.69 706.46L137.6 715.66L143.51 725.89L149.43 734.07L155.34 741.23L161.26 745.93L167.17 739.8L173.09 747.36L179 747.36L184.91 745.93L190.83 750.02L196.74 735.71L202.66 722.82L208.57 720.78L214.49 700.33L220.4 698.28L226.31 702.99L232.23 697.26L238.14 690.72L244.06 691.74L249.97 689.69L255.89 687.59L261.8 686.56L267.71 700.88L273.63 716.83L279.54 715.6L285.46 711.72L291.37 715.19L297.29 715.6L303.2 720.31L309.11 707.42L315.03 706.61L320.94 708.65L326.86 690.65L332.77 679.41L338.69 686.56L344.6 685.54L350.51 684.52L356.43 688.61L362.34 681.45L368.26 693.72L374.17 697.81L380.09 693.31L386 704.97L391.92 717.65L397.83 713.15L403.74 702.52L409.66 705.38L415.57 699.45L421.49 691.68L427.4 686.16L433.32 686.16L439.23 678.38L445.14 656.8L451.06 637.37L456.97 641.46L462.89 652.71L468.8 660.89L474.72 648.62L480.63 613.85L486.54 611.4L492.46 588.29L498.37 606.7L504.29 628.17L510.2 616.92L516.12 606.7L522.03 622.03L527.94 613.85L533.86 621.01L539.77 671.11L545.69 669.48L551.6 691.56L557.52 697.7L563.43 704.86L569.34 726.33L575.26 725.31L581.17 722.65L587.09 720.6L593 723.26L598.92 727.35L604.83 734.51L610.74 742.28L616.66 698.72L622.57 683.38L628.49 720.19L634.4 713.05L640.32 706.91L646.23 721.23L652.14 787.69L658.06 734.52L663.97 748.43L669.89 747.81L675.8 793.82L681.72 800.98L687.63 766.83L693.54 771.33L699.46 775.83L705.37 765.6L711.29 719.8L717.2 751.9L723.12 749.24L729.03 745.77L734.94 725.93L740.86 720.61L746.77 718.57L752.69 723.89L758.6 721.43L764.52 721.43L770.43 717.75L776.34 713.66L782.26 704.25L788.17 699.14L794.09 701.39L800 654.76L805.92 672.15L811.83 663.97L817.74 662.94L823.66 662.37L829.57 659.71L835.49 668.51L841.4 671.98L847.32 669.53L853.23 673.21L859.14 692.02L865.06 682.82L870.97 662.99L876.89 666.46L882.8 670.55L888.72 670.55L894.63 655.62L900.54 670.14L906.46 669.94L912.37 650.1L918.29 676.69L924.2 682.82L930.12 712.47L936.03 708.38L941.94 711.45L947.86 708.38L953.77 727.81L959.69 712.07L965.6 723.72L971.52 744.17L977.43 761.55L983.35 760.53L989.26 755.42L995.17 742.13L1001.09 744.17L1007 745.19L1012.92 744.03L1018.83 739.32L1024.75 747.79L1030.66 737.43L1036.57 714.83L1042.49 707.3L1048.4 697.88L1054.32 706.35L1060.23 693.73L1066.15 701.27L1072.06 686.2L1077.97 689.97L1083.89 670L1089.8 670.57L1095.72 683.19L1101.63 685.07L1107.55 688.46L1113.46 680.55L1119.37 649.85L1125.29 657.95L1131.2 668.68L1137.12 660.21L1143.03 660.58L1148.95 668.12L1154.86 663.03L1160.77 663.6L1166.69 669.62L1172.6 673.01L1178.52 712.01L1184.43 695.62L1190.35 699.76L1196.26 701.65L1202.17 706.92L1208.09 703.91L1214 708.24" stroke="#1b5e20" stroke-width="3.2" fill="none" stroke-linejoin="round"/>
<path d="M52.5 43V892 M1384.5 43V892 M1444.5 43V892 M7 540.5H1529 M7 865.5H1529" stroke="#5d606b" stroke-width="1" fill="none"/>
<path d="M1384 65.5h5 M1384 123.5h5 M1384 180.5h5 M1384 238.5h5 M1384 296.5h5 M1384 353.5h5 M1384 411.5h5 M1384 469.5h5 M1384 527.5h5 M1384 569.5h5 M1384 638.5h5 M1384 707.5h5 M1384 776.5h5 M1384 845.5h5 M1444 545.5h5 M1444 578.5h5 M1444 611.5h5 M1444 645.5h5 M1444 678.5h5 M1444 712.5h5 M1444 745.5h5 M1444 778.5h5 M1444 812.5h5 M1444 845.5h5 M47 547.5h5 M47 599.5h5 M47 652.5h5 M47 704.5h5 M47 757.5h5 M47 809.5h5 M47 862.5h5 M138.5 865V870 M232.5 865V870 M309.5 865V870 M416.5 865V870 M510.5 865V870 M587.5 865V870 M676.5 865V870 M770.5 865V870 M847.5 865V870 M948.5 865V870 M1048.5 865V870 M1131.5 865V870 M1214.5 865V870 M1309.5 865V870" stroke="#5d606b" stroke-width="1" fill="none"/>
<g font-family='"Liberation Sans", Arial, sans-serif' font-size="10.6" fill="#50535e"><text x="1393.5" y="69.5">11.00</text><text x="1393.5" y="127.5">10.50</text><text x="1393.5" y="184.5">10.00</text><text x="1393.5" y="242.5">9.50</text><text x="1393.5" y="300.5">9.00</text><text x="1393.5" y="357.5">8.50</text><text x="1393.5" y="415.5">8.00</text><text x="1393.5" y="473.5">7.50</text><text x="1393.5" y="531.5">7.00</text><text x="1393.5" y="573.5">1.0000</text><text x="1393.5" y="642.5">0.5000</text><text x="1393.5" y="711.5">0.0000</text><text x="1393.5" y="780.5">−0.5000</text><text x="1393.5" y="849.5">−1.0000</text><text x="1453.5" y="549.5">100.00000000</text><text x="1453.5" y="582.5">90.00000000</text><text x="1453.5" y="615.5">80.00000000</text><text x="1453.5" y="649.5">70.00000000</text><text x="1453.5" y="682.5">60.00000000</text><text x="1453.5" y="716.5">50.00000000</text><text x="1453.5" y="749.5">40.00000000</text><text x="1453.5" y="782.5">30.00000000</text><text x="1453.5" y="816.5">20.00000000</text><text x="1453.5" y="849.5">10.00000000</text><text x="43.5" y="551.5" text-anchor="end">3.00</text><text x="43.5" y="603.5" text-anchor="end">2.00</text><text x="43.5" y="656.5" text-anchor="end">1.00</text><text x="43.5" y="708.5" text-anchor="end">0.00</text><text x="43.5" y="761.5" text-anchor="end">−1.00</text><text x="43.5" y="813.5" text-anchor="end">−2.00</text><text x="43.5" y="866.5" text-anchor="end">−3.00</text><text x="138.5" y="884.5" text-anchor="middle">16</text><text x="232.5" y="884.5" text-anchor="middle">2020</text><text x="309.5" y="884.5" text-anchor="middle">14</text><text x="416.5" y="884.5" text-anchor="middle">Feb</text><text x="510.5" y="884.5" text-anchor="middle">17</text><text x="587.5" y="884.5" text-anchor="middle">Mar</text><text x="676.5" y="884.5" text-anchor="middle">16</text><text x="770.5" y="884.5" text-anchor="middle">Apr</text><text x="847.5" y="884.5" text-anchor="middle">14</text><text x="948.5" y="884.5" text-anchor="middle">May</text><text x="1048.5" y="884.5" text-anchor="middle">18</text><text x="1131.5" y="884.5" text-anchor="middle">Jun</text><text x="1214.5" y="884.5" text-anchor="middle">15</text><text x="1309.5" y="884.5" text-anchor="middle">Jul</text><text x="1383.6" y="884.5" text-anchor="end">1</text></g>
<rect x="1337.8" y="187" width="45.2" height="16" fill="#e0503f"/>
<text x="1360.4" y="198.9" text-anchor="middle" font-family='"Liberation Sans", Arial, sans-serif' font-size="10.8" font-weight="bold" fill="#fff">17.73%</text>
<rect x="1384.3" y="187" width="38.7" height="16" fill="#e0503f"/>
<text x="1392.5" y="198.9" text-anchor="start" font-family='"Liberation Sans", Arial, sans-serif' font-size="10.8" font-weight="bold" fill="#fff">9.88</text>
<path d="M1384.5 195h4" stroke="#fff" stroke-width="1"/>
<rect x="1384.3" y="205" width="55.7" height="15.6" fill="#e0503f"/>
<text x="1392.5" y="216.7" text-anchor="start" font-family='"Liberation Sans", Arial, sans-serif' font-size="10.8" font-weight="bold" fill="#fff">15:48:04</text>
<rect x="1356.6" y="302.8" width="26.4" height="16.8" fill="#3b83b4"/>
<text x="1369.8" y="315.1" text-anchor="middle" font-family='"Liberation Sans", Arial, sans-serif' font-size="10.8" font-weight="bold" fill="#fff">MA</text>
<rect x="1384.3" y="302.8" width="38.7" height="16.8" fill="#3b83b4"/>
<text x="1392.5" y="315.1" text-anchor="start" font-family='"Liberation Sans", Arial, sans-serif' font-size="10.8" font-weight="bold" fill="#fff">8.87</text>
<path d="M1384.5 311.2h4" stroke="#fff" stroke-width="1"/>
<rect x="1334.8" y="501.1" width="48.2" height="16.6" fill="#8b2525"/>
<text x="1358.9" y="513.3" text-anchor="middle" font-family='"Liberation Sans", Arial, sans-serif' font-size="10.8" font-weight="bold" fill="#fff">Volume</text>
<rect x="1384.3" y="501.1" width="56.3" height="16.6" fill="#8b2525"/>
<text x="1392.5" y="513.3" text-anchor="start" font-family='"Liberation Sans", Arial, sans-serif' font-size="10.8" font-weight="bold" fill="#fff">68.296B</text>
<path d="M1384.5 509.4h4" stroke="#fff" stroke-width="1"/>
<rect x="1342.6" y="672" width="40.4" height="16.9" fill="#000"/>
<text x="1362.8" y="684.35" text-anchor="middle" font-family='"Liberation Sans", Arial, sans-serif' font-size="10.8" font-weight="bold" fill="#fff">Signal</text>
<rect x="1384.3" y="672" width="49.5" height="16.9" fill="#000"/>
<text x="1392.5" y="684.35" text-anchor="start" font-family='"Liberation Sans", Arial, sans-serif' font-size="10.8" font-weight="bold" fill="#fff">0.2009</text>
<path d="M1384.5 680.5h4" stroke="#fff" stroke-width="1"/>
<rect x="1342.6" y="688.9" width="40.4" height="16.5" fill="#2196f3"/>
<text x="1362.8" y="701.05" text-anchor="middle" font-family='"Liberation Sans", Arial, sans-serif' font-size="10.8" font-weight="bold" fill="#fff">MACD</text>
<rect x="1384.3" y="688.9" width="49.5" height="16.5" fill="#2196f3"/>
<text x="1392.5" y="701.05" text-anchor="start" font-family='"Liberation Sans", Arial, sans-serif' font-size="10.8" font-weight="bold" fill="#fff">0.1755</text>
<path d="M1384.5 697h4" stroke="#fff" stroke-width="1"/>
<rect x="1444" y="683.2" width="77.9" height="16.1" fill="#f44336"/>
<text x="1452.5" y="695.15" text-anchor="start" font-family='"Liberation Sans", Arial, sans-serif' font-size="10.6" font-weight="bold" fill="#fff">56.27103278</text>
<path d="M1444.5 691.2h4" stroke="#fff" stroke-width="1"/>
<rect x="8.2" y="699.6" width="43.8" height="16.8" fill="#1b5e20"/>
<text x="43.5" y="711.9" text-anchor="end" font-family='"Liberation Sans", Arial, sans-serif' font-size="10.8" font-weight="bold" fill="#fff">−0.06</text>
<path d="M47 708.5h5" stroke="#fff" stroke-width="1"/>
<rect x="54.2" y="699.6" width="34.7" height="16.8" fill="#1b5e20"/>
<text x="71.55" y="711.9" text-anchor="middle" font-family='"Liberation Sans", Arial, sans-serif' font-size="10.8" font-weight="bold" fill="#fff">MOM</text>
<g font-family='"Liberation Sans", Arial, sans-serif' fill="#4a4a4a" stroke="#4a4a4a" stroke-width="0.25"><text x="60.5" y="64.3" font-size="12.2" textLength="466.5" lengthAdjust="spacingAndGlyphs">Market Cap ETH Dominance, % (CALCULATED BY TRADINGVIEW), 1D, CRYPTOCAP</text><text x="61" y="81.2" font-size="12">MA</text><text x="61" y="97.7" font-size="12">Vol</text><text x="61" y="561.5" font-size="12">Mom</text><text x="61" y="578.5" font-size="12">RSI</text><text x="61" y="595.5" font-size="12">MACD</text></g>
<g font-family='"Liberation Sans", Arial, sans-serif'><text x="6" y="16.8" font-size="12" fill="#e6e7ea" font-weight="bold" textLength="70" lengthAdjust="spacingAndGlyphs">TomasCrypt</text><text x="79.3" y="16.8" font-size="12" fill="#e6e7ea" textLength="329.7" lengthAdjust="spacingAndGlyphs">published on TradingView.com, June 15, 2020 09:12:00 BST</text><text x="6" y="33.9" font-size="12" fill="#e6e7ea" font-weight="bold" textLength="128.5" lengthAdjust="spacingAndGlyphs">CRYPTOCAP:ETH.D, 1D</text><text x="140" y="33.9" font-size="12" fill="#e6e7ea" textLength="25" lengthAdjust="spacingAndGlyphs">9.88</text><text x="182" y="33.9" font-size="12" fill="#e6e7ea" textLength="83.8" lengthAdjust="spacingAndGlyphs">−0.05 (−0.52%)</text><text x="270.3" y="33.9" font-size="12" fill="#e6e7ea" font-weight="bold" textLength="11.8" lengthAdjust="spacingAndGlyphs">O:</text><text x="283.4" y="33.9" font-size="12" fill="#ef5350" textLength="24.8" lengthAdjust="spacingAndGlyphs">9.93</text><text x="312.5" y="33.9" font-size="12" fill="#e6e7ea" font-weight="bold" textLength="12" lengthAdjust="spacingAndGlyphs">H:</text><text x="325.5" y="33.9" font-size="12" fill="#ef5350" textLength="26" lengthAdjust="spacingAndGlyphs">9.94</text><text x="355.2" y="33.9" font-size="12" fill="#e6e7ea" font-weight="bold" textLength="9.9" lengthAdjust="spacingAndGlyphs">L:</text><text x="366.4" y="33.9" font-size="12" fill="#ef5350" textLength="24.2" lengthAdjust="spacingAndGlyphs">9.83</text><text x="395" y="33.9" font-size="12" fill="#e6e7ea" font-weight="bold" textLength="10.8" lengthAdjust="spacingAndGlyphs">C:</text><text x="407.1" y="33.9" font-size="12" fill="#ef5350" textLength="24.8" lengthAdjust="spacingAndGlyphs">9.88</text></g>
<path d="M167.7 25.1H177.9L172.7 34.4Z" fill="#f05a4a"/>
<circle cx="29.7" cy="879.2" r="9.3" fill="#eef0f3"/>
<text x="29.7" y="883" text-anchor="middle" font-family='"Liberation Sans", Arial, sans-serif' font-size="11" fill="#50535e">Z</text>
<circle cx="1414.2" cy="879.2" r="9.3" fill="#eef0f3"/>
<text x="1414.2" y="883" text-anchor="middle" font-family='"Liberation Sans", Arial, sans-serif' font-size="11" fill="#50535e">A</text>
<circle cx="1486.3" cy="879.2" r="9.3" fill="#eef0f3"/>
<text x="1486.3" y="883" text-anchor="middle" font-family='"Liberation Sans", Arial, sans-serif' font-size="11" fill="#50535e">B</text>
<path d="M6 915.5C5.2 912 7 909.2 10 908.6C10.8 904.6 13.8 902.4 17.2 902.5C20.5 902.6 22.8 904.4 24.2 906.8C25.4 906.2 27 906.2 28.3 906.7C30.3 907.6 31.3 909.4 31.6 911.4C32.6 912.6 32.4 914.4 31.8 915.8C31.2 917.3 30 918.1 28.6 918.1H8.4C7.2 918.1 6.3 917 6 915.5Z" fill="#2196f3"/>
<path d="M7.2 915.8L15.8 908.3L21.8 914.3L27.6 907.5" stroke="#131722" stroke-width="1.4" fill="none"/>
<circle cx="15.8" cy="908.3" r="1.7" fill="#131722"/>
<circle cx="21.8" cy="914.3" r="1.7" fill="#131722"/>
<text x="34" y="914.7" font-family='"Liberation Sans", Arial, sans-serif' font-size="12" font-weight="bold" fill="#f0f0f0" textLength="70" lengthAdjust="spacingAndGlyphs">TradingView</text>
</svg>
</body></html>
